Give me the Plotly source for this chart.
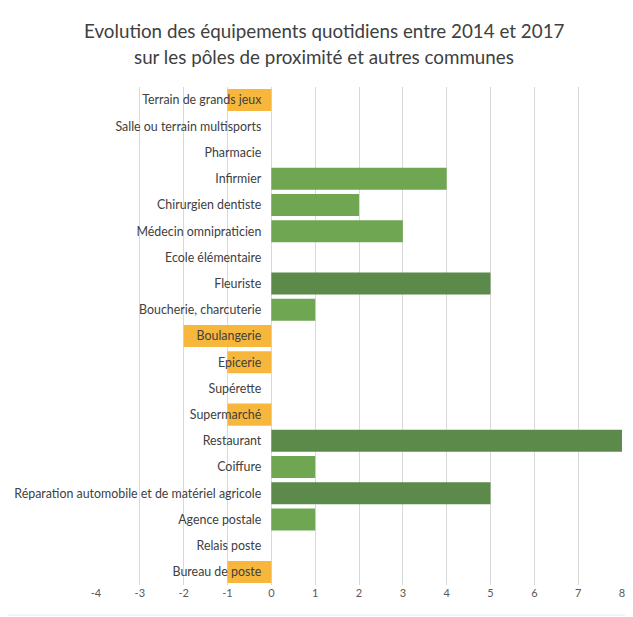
import plotly.graph_objects as go

categories = [
    "Terrain de grands jeux", "Salle ou terrain multisports", "Pharmacie", "Infirmier",
    "Chirurgien dentiste", "Médecin omnipraticien", "Ecole élémentaire", "Fleuriste",
    "Boucherie, charcuterie", "Boulangerie", "Epicerie", "Supérette", "Supermarché",
    "Restaurant", "Coiffure", "Réparation automobile et de matériel agricole",
    "Agence postale", "Relais poste", "Bureau de poste",
]
values = [-1, 0, 0, 4, 2, 3, 0, 5, 1, -2, -1, 0, -1, 8, 1, 5, 1, 0, -1]
dark_categories = ["Fleuriste", "Restaurant", "Réparation automobile et de matériel agricole"]
x_ticks = [-4, -3, -2, -1, 0, 1, 2, 3, 4, 5, 6, 7, 8]
x_ticktext = ["-4", "-3", "-2", "-1", "0", "1", "2", "3", "4", "5", "6", "7", "8"]
title_lines = ["Evolution des équipements quotidiens entre 2014 et 2017",
               "sur les pôles de proximité et autres communes"]

ORANGE = "#f6b73c"
LIGHT = "#6ea652"
DARK = "#5c8a4b"
colors = [ORANGE if v < 0 else (DARK if c in dark_categories else LIGHT)
          for c, v in zip(categories, values)]

fig = go.Figure(go.Bar(
    x=values, y=categories, orientation="h",
    marker=dict(color=colors, line=dict(width=0)),
    hoverinfo="x+y",
))

# page offset of 8px (body margin) compensated
OFF = 8
W, H = 625, 609
ml = 96 - OFF
mt = 87 - OFF
mr = W - (622 - OFF)
mb = H - (585 - OFF)
xmin, xmax = -4, 8
frac0 = (0 - xmin) / (xmax - xmin)
plot_h = H - mt - mb
plot_w = W - ml - mr


def py(page_y):
    return 1 + (mt - (page_y - OFF)) / plot_h


def px(page_x):
    return ((page_x - OFF) - ml) / plot_w


annotations = [
    dict(text=title_lines[0], xref="paper", yref="paper", x=px(324), y=py(31),
         xanchor="center", yanchor="middle", showarrow=False,
         font=dict(family="Lato", size=18.8, color="#404040")),
    dict(text=title_lines[1], xref="paper", yref="paper", x=px(324), y=py(57),
         xanchor="center", yanchor="middle", showarrow=False,
         font=dict(family="Lato", size=18.8, color="#404040")),
]

fig.update_layout(
    width=W, height=H,
    margin=dict(l=ml, r=mr, t=mt, b=mb, autoexpand=False),
    paper_bgcolor="white", plot_bgcolor="white",
    bargap=0.16,
    showlegend=False,
    annotations=annotations,
    xaxis=dict(
        range=[xmin, xmax], tickvals=x_ticks, ticktext=x_ticktext,
        showgrid=True, gridcolor="#d9d9d9", automargin=False,
        gridwidth=1, zeroline=False, showline=False, ticks="",
        tickfont=dict(family="Lato", size=11, color="#595959"),
        fixedrange=True,
    ),
    yaxis=dict(
        categoryorder="array", categoryarray=categories[::-1],
        anchor="free", position=frac0, side="left", automargin=False,
        showgrid=False, zeroline=False, showline=False, ticks="",
        ticklabelstandoff=10,
        tickfont=dict(family="Lato", size=12.4, color="#404040"),
        fixedrange=True,
    ),
    shapes=[dict(type="rect", xref="paper", yref="paper",
                 x0=px(5), x1=px(645), y0=py(615), y1=py(5),
                 line=dict(color="#e8e8e8", width=1), layer="below")],
)

fig.write_html("out.html")
